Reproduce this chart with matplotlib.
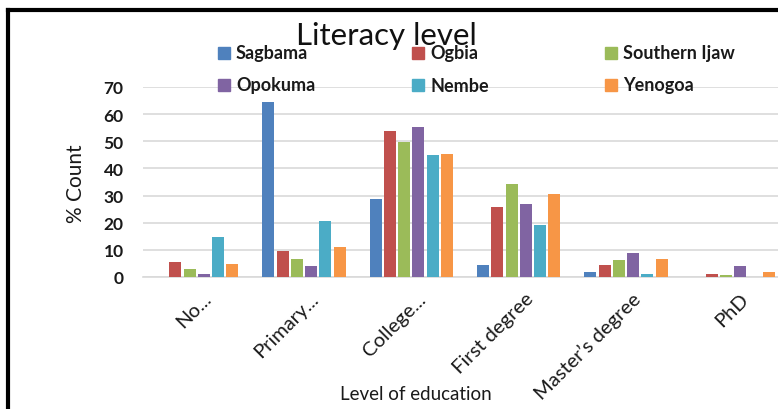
import numpy as np
import matplotlib
matplotlib.use("Agg")
import matplotlib.pyplot as plt
from matplotlib.patches import Rectangle
from matplotlib.lines import Line2D
import matplotlib.transforms as mtransforms

plt.rcParams["font.family"] = ["Lato", "DejaVu Sans"]

# data: % count per level of education, one list per local government area
levels = ["No...", "Primary...", "College...", "First degree", "Master\u2019s degree", "PhD"]
sagbama = [0.0, 64.6, 28.6, 4.4, 1.7, 0.0]
ogbia = [5.6, 9.7, 53.7, 25.9, 4.4, 1.2]
southern_ijaw = [2.9, 6.6, 49.9, 34.2, 6.1, 0.6]
opokuma = [1.1, 3.9, 55.4, 26.8, 9.0, 4.1]
nembe = [14.8, 20.5, 45.0, 19.2, 1.0, 0.0]
yenogoa = [4.7, 11.2, 45.3, 30.7, 6.5, 1.8]

series_names = ["Sagbama", "Ogbia", "Southern Ijaw", "Opokuma", "Nembe", "Yenogoa"]
series_vals = [sagbama, ogbia, southern_ijaw, opokuma, nembe, yenogoa]
colors = ["#4F81BD", "#C0504D", "#9BBB59", "#8064A2", "#4BACC6", "#F79646"]

text_col = "#1a1a1a"

fig = plt.figure(figsize=(7.78, 4.10), dpi=100)
W, H = 778, 410
ax = fig.add_axes([143 / W, 132 / H, 644 / W, 190 / H])

x = np.arange(len(levels))
step = 0.133
width = 0.112
for i, (name, vals, c) in enumerate(zip(series_names, series_vals, colors)):
    ax.bar(x + (i - 2.5) * step, vals, width=width, color=c, label=name, zorder=3)

ax.set_xlim(-0.5, len(levels) - 0.5)
ax.set_ylim(0, 70)
ax.set_yticks(range(0, 71, 10))
ax.yaxis.grid(True, color="#d9d9d9", linewidth=1.2, zorder=0)
ax.set_axisbelow(True)
for s in ["top", "right", "left"]:
    ax.spines[s].set_visible(False)
ax.spines["bottom"].set_color("#d9d9d9")
ax.spines["bottom"].set_linewidth(1.2)
ax.tick_params(axis="y", length=0, labelsize=12.5, colors=text_col, pad=14)
ax.tick_params(axis="x", length=0, colors=text_col, pad=9)
for lab in ax.get_yticklabels():
    lab.set_fontweight("bold")

ax.set_xticks(x)
ax.set_xticklabels(levels, rotation=45, ha="right", va="top",
                   rotation_mode="anchor", fontsize=14.5, color=text_col)
offset = mtransforms.ScaledTranslation(6 / 100, 0, fig.dpi_scale_trans)
for lab in ax.get_xticklabels():
    lab.set_transform(lab.get_transform() + offset)

fig.text(76 / W, 1 - 184 / H, "% Count", fontsize=15, rotation=90,
         color=text_col, ha="center", va="center")
fig.text(416 / W, 1 - 395 / H, "Level of education", fontsize=13.5,
         color=text_col, ha="center", va="center")
fig.text(386 / W, 1 - 36 / H, "Literacy level", fontsize=22.5,
         color="#111111", ha="center", va="center")

# legend laid out in two rows of three
col_x = [218, 412, 605]
row_y = [54, 86]
for i, (name, c) in enumerate(zip(series_names, colors)):
    cx = col_x[i % 3]
    cy = row_y[i // 3]
    fig.patches.append(Rectangle((cx / W, 1 - (cy + 6) / H), 12 / W, 12 / H,
                                 transform=fig.transFigure, color=c))
    fig.text((cx + 18) / W, 1 - cy / H, name, fontsize=13, color=text_col,
             ha="left", va="center", fontweight="bold")

# chart frame
fig.lines.append(Line2D([8 / W, 8 / W], [0, 1 - 11 / H], transform=fig.transFigure,
                        color="black", linewidth=3))
fig.lines.append(Line2D([8 / W, 1], [1 - 11 / H, 1 - 11 / H], transform=fig.transFigure,
                        color="black", linewidth=3))

fig.savefig("out.png", dpi=100)
